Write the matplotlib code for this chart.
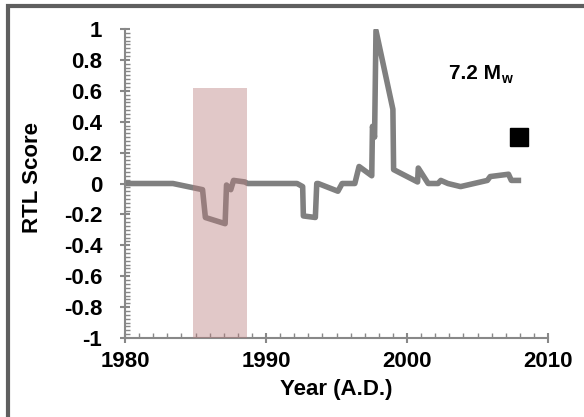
import matplotlib.pyplot as plt
from matplotlib.patches import Rectangle
from matplotlib.ticker import MultipleLocator

# RTL score trace
years = [1980.0, 1983.4, 1985.5, 1985.7, 1987.1, 1987.2, 1987.5, 1987.7, 1988.5, 1988.7,
         1992.2, 1992.6, 1992.65, 1993.5, 1993.6, 1993.7, 1995.1, 1995.4, 1996.3, 1996.6,
         1997.5, 1997.55, 1997.7, 1997.8, 1999.0, 1999.05, 2000.75, 2000.8, 2001.5, 2002.2,
         2002.4, 2002.9, 2003.8, 2005.7, 2005.9, 2007.2, 2007.4, 2007.9]
rtl = [0.0, 0.0, -0.04, -0.22, -0.26, -0.01, -0.04, 0.02, 0.01, 0.0,
       0.0, -0.02, -0.21, -0.22, 0.0, 0.0, -0.05, 0.0, 0.0, 0.11,
       0.05, 0.37, 0.30, 0.99, 0.48, 0.09, 0.01, 0.10, 0.0, 0.0,
       0.02, 0.0, -0.02, 0.02, 0.045, 0.06, 0.02, 0.02]

quake_year = 2007.95
quake_marker = 0.3
quake_label = '7.2 M'
shade_start, shade_end, shade_top = 1984.85, 1988.65, 0.62

plt.rcParams['font.family'] = ['Liberation Sans', 'DejaVu Sans']
plt.rcParams['font.weight'] = 'bold'

fig = plt.figure(figsize=(5.84, 4.17), dpi=100)
ax = fig.add_axes([125/584, 1 - 338/417, 423/584, 309/417])

ax.plot(years, rtl, color='#808080', lw=4, solid_joinstyle='round', zorder=2)
ax.add_patch(Rectangle((shade_start, -1), shade_end - shade_start, shade_top + 1,
                       facecolor='#b87c7c', alpha=0.42, lw=0, zorder=3))
ax.plot([quake_year], [quake_marker], 's', color='black', ms=13, zorder=4)
ax.text(2004.8, 0.71, quake_label, fontsize=15, fontweight='bold', ha='center', va='center')
ax.text(2006.65, 0.675, 'w', fontsize=10, fontweight='bold', ha='left', va='center')

ax.set_xlim(1980, 2010)
ax.set_ylim(-1, 1)
ax.set_xticks([1980, 1990, 2000, 2010])
ax.set_yticks([-1, -0.8, -0.6, -0.4, -0.2, 0, 0.2, 0.4, 0.6, 0.8, 1])
ax.set_yticklabels(['-1', '-0.8', '-0.6', '-0.4', '-0.2', '0', '0.2', '0.4', '0.6', '0.8', '1'])
ax.xaxis.set_minor_locator(MultipleLocator(1))
ax.yaxis.set_minor_locator(MultipleLocator(0.025))

for s in ['top', 'right']:
    ax.spines[s].set_visible(False)
for s in ['left', 'bottom']:
    ax.spines[s].set_color('#888888')
    ax.spines[s].set_linewidth(1.5)

ax.tick_params(which='major', direction='inout', length=7, width=1.5, color='#888888',
               labelsize=16)
ax.tick_params(which='minor', direction='in', length=3.5, width=1, color='#888888')
ax.tick_params(axis='y', which='major', pad=13)
ax.tick_params(axis='x', which='major', pad=6)

ax.set_xlabel('Year (A.D.)', fontsize=16, fontweight='bold', labelpad=5)
ax.set_ylabel('RTL Score', fontsize=16, fontweight='bold')
ax.yaxis.set_label_coords(-(125 - 43) / 423, 0.52)

# outer frame, cut off at right and bottom as in the reference
fig.add_artist(Rectangle((8/584, -0.1), 1.2, 1.1 - 6/417, transform=fig.transFigure,
                         fill=False, ec='#5f5f5f', lw=3))

plt.savefig('out.png', dpi=100)
